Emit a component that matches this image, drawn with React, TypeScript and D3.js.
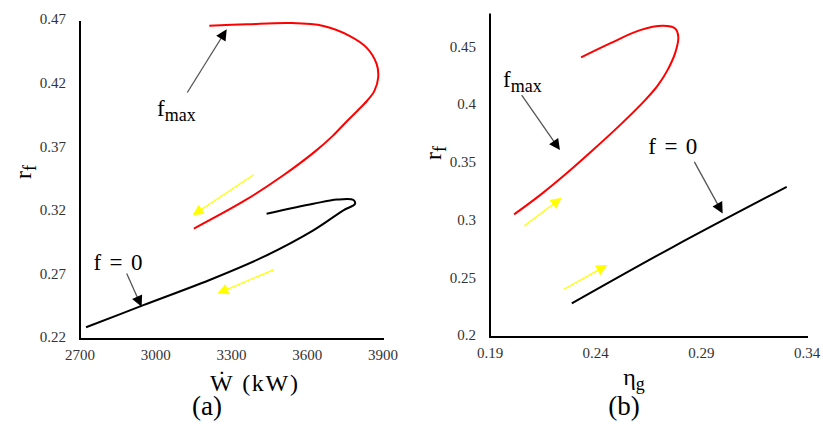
import React from "react";
import * as d3 from "d3";

// ---------- Panel (a): r_f vs W (kW) ----------
const aRedW = [3212, 3360, 3532, 3664, 3769, 3835, 3875, 3881, 3866, 3837, 3799, 3759, 3702, 3635, 3504, 3353, 3151];
const aRedR = [0.4663, 0.4674, 0.4684, 0.4661, 0.4582, 0.4491, 0.4361, 0.4256, 0.4151, 0.4073, 0.3995, 0.3916, 0.3799, 0.3681, 0.3485, 0.3289, 0.3068];
const aBlackW = [2724, 2951, 3228, 3426, 3624, 3743, 3789, 3783, 3718, 3624, 3439];
const aBlackR = [0.2292, 0.2466, 0.2676, 0.2845, 0.3054, 0.3211, 0.3262, 0.3293, 0.3296, 0.3263, 0.3185];
const aXTicks = [2700, 3000, 3300, 3600, 3900];
const aYTicks = [0.22, 0.27, 0.32, 0.37, 0.42, 0.47];

// ---------- Panel (b): r_f vs eta_g ----------
const bRedE = [0.2331, 0.2468, 0.261, 0.272, 0.2776, 0.2791, 0.2776, 0.274, 0.2695, 0.2634, 0.2525, 0.2387, 0.2264, 0.2137, 0.2014];
const bRedR = [0.442, 0.4541, 0.4656, 0.4693, 0.467, 0.4598, 0.4457, 0.431, 0.418, 0.405, 0.3851, 0.3618, 0.3419, 0.3228, 0.3061];
const bBlackE = [0.2287, 0.2767, 0.3304];
const bBlackR = [0.2291, 0.2781, 0.33];
const bXTicks = [0.19, 0.24, 0.29, 0.34];
const bYTicks = [0.2, 0.25, 0.3, 0.35, 0.4, 0.45];

// annotations [x1, y1, x2, y2] in data units (tail -> tip)
const aFmaxArrow = [3125, 0.4138, 3281, 0.4635];
const aF0Arrow = [2885, 0.2715, 2944, 0.2453];
const aYellow1 = [3389, 0.3493, 3146, 0.3172];
const aYellow2 = [3468, 0.2746, 3244, 0.2558];
const aFmaxLabel = [3005, 0.3955];
const aF0Label = [2753, 0.2741];

const bFmaxArrow = [0.205, 0.4093, 0.2231, 0.3618];
const bF0Arrow = [0.2867, 0.3516, 0.3001, 0.307];
const bYellow1 = [0.2061, 0.296, 0.2239, 0.3205];
const bYellow2 = [0.225, 0.2413, 0.2455, 0.2623];
const bFmaxLabel = [0.1962, 0.4163];
const bF0Label = [0.2649, 0.3583];

const SERIF = "Liberation Serif, Times New Roman, serif";

type Sc = d3.ScaleLinear<number, number>;

function Arrow({ a, x, y, shaft, head, w, len, hw }: { a: number[]; x: Sc; y: Sc; shaft: string; head: string; w: number; len: number; hw: number }) {
  const x1 = x(a[0]), y1 = y(a[1]), x2 = x(a[2]), y2 = y(a[3]);
  const dx = x2 - x1, dy = y2 - y1;
  const L = Math.hypot(dx, dy);
  const ux = dx / L, uy = dy / L;
  const bx = x2 - ux * len, by = y2 - uy * len;
  const px = -uy, py = ux;
  const pts = `${x2},${y2} ${bx + px * hw},${by + py * hw} ${bx - px * hw},${by - py * hw}`;
  return (
    <g>
      <line x1={x1} y1={y1} x2={bx + ux} y2={by + uy} stroke={shaft} strokeWidth={w} />
      <polygon points={pts} fill={head} />
    </g>
  );
}

function Panel(props: {
  x: Sc; y: Sc; xTicks: number[]; yTicks: number[]; xFmt: (v: number) => string; yFmt: (v: number) => string;
  red: [number, number][]; black: [number, number][];
  fmaxArrow: number[]; f0Arrow: number[]; y1: number[]; y2: number[]; fmaxLabel: number[]; f0Label: number[];
}) {
  const { x, y } = props;
  const line = d3.line<[number, number]>().x(d => x(d[0])).y(d => y(d[1])).curve(d3.curveCatmullRom.alpha(0.5));
  const [x0, x1] = x.range();
  const [yb, yt] = y.range();
  return (
    <g>
      <path d={line(props.red) || ""} fill="none" stroke="#ff0000" strokeWidth={2} />
      <path d={line(props.black) || ""} fill="none" stroke="#000" strokeWidth={2} />
      <line x1={x0} y1={yt} x2={x0} y2={yb + 1} stroke="#000" strokeWidth={2} />
      <line x1={x0 - 1} y1={yb} x2={x1 + 1} y2={yb} stroke="#000" strokeWidth={2} />
      {props.yTicks.map(t => (
        <text key={"y" + t} x={x0 - 14} y={y(t)} textAnchor="end" dominantBaseline="middle" fontFamily={SERIF} fontSize={15} fill="#333">{props.yFmt(t)}</text>
      ))}
      {props.xTicks.map(t => (
        <text key={"x" + t} x={x(t)} y={yb + 21} textAnchor="middle" fontFamily={SERIF} fontSize={15} fill="#333">{props.xFmt(t)}</text>
      ))}
      <Arrow a={props.fmaxArrow} x={x} y={y} shaft="#555" head="#000" w={1.3} len={11} hw={5.5} />
      <Arrow a={props.f0Arrow} x={x} y={y} shaft="#555" head="#000" w={1.3} len={11} hw={5.5} />
      <Arrow a={props.y1} x={x} y={y} shaft="#ffff00" head="#ffff00" w={1.3} len={11} hw={5.5} />
      <Arrow a={props.y2} x={x} y={y} shaft="#ffff00" head="#ffff00" w={1.3} len={11} hw={5.5} />
      <text x={x(props.fmaxLabel[0])} y={y(props.fmaxLabel[1])} fontFamily={SERIF} fontSize={23} fill="#000">
        f<tspan fontSize={18} dy={5}>max</tspan>
      </text>
      <text x={x(props.f0Label[0])} y={y(props.f0Label[1])} fontFamily={SERIF} fontSize={23} fill="#000"
        textLength={49} lengthAdjust="spacing" style={{ whiteSpace: "pre" }}>
        {"f = 0"}
      </text>
    </g>
  );
}

export default function App() {
  const ax = d3.scaleLinear().domain([2700, 3900]).range([80, 383]);
  const ay = d3.scaleLinear().domain([0.22, 0.47]).range([339, 21]);
  const bx = d3.scaleLinear().domain([0.19, 0.34]).range([490, 807]);
  const by = d3.scaleLinear().domain([0.2, 0.48]).range([337, 13.5]);
  const aRed = aRedW.map((w, i) => [w, aRedR[i]] as [number, number]);
  const aBlack = aBlackW.map((w, i) => [w, aBlackR[i]] as [number, number]);
  const bRed = bRedE.map((e, i) => [e, bRedR[i]] as [number, number]);
  const bBlack = bBlackE.map((e, i) => [e, bBlackR[i]] as [number, number]);
  return (
    <svg width={823} height={424} style={{ position: "absolute", left: 0, top: 0, background: "#fff" }}>
      <rect width={823} height={424} fill="#fff" />
      <Panel x={ax} y={ay} xTicks={aXTicks} yTicks={aYTicks} xFmt={v => String(v)} yFmt={v => v.toFixed(2)}
        red={aRed} black={aBlack} fmaxArrow={aFmaxArrow} f0Arrow={aF0Arrow} y1={aYellow1} y2={aYellow2}
        fmaxLabel={aFmaxLabel} f0Label={aF0Label} />
      <Panel x={bx} y={by} xTicks={bXTicks} yTicks={bYTicks} xFmt={v => String(v)} yFmt={v => String(v)}
        red={bRed} black={bBlack} fmaxArrow={bFmaxArrow} f0Arrow={bF0Arrow} y1={bYellow1} y2={bYellow2}
        fmaxLabel={bFmaxLabel} f0Label={bF0Label} />
      {/* axis titles */}
      <text x={210} y={391} fontFamily={SERIF} fontSize={24} fill="#000" textLength={88} lengthAdjust="spacing"
        style={{ whiteSpace: "pre" }}>Ẇ (kW)</text>
      <text x={207} y={415} textAnchor="middle" fontFamily={SERIF} fontSize={27} fill="#000">(a)</text>
      <text x={634} y={385} textAnchor="middle" fontFamily={SERIF} fontSize={24} fill="#000">
        η<tspan fontSize={18} dy={5}>g</tspan>
      </text>
      <text x={624} y={415} textAnchor="middle" fontFamily={SERIF} fontSize={27} fill="#000">(b)</text>
      <text transform="translate(31,172) rotate(-90)" textAnchor="middle" fontFamily={SERIF} fontSize={24} fill="#000">
        r<tspan fontSize={18} dy={5}>f</tspan>
      </text>
      <text transform="translate(441,153) rotate(-90)" textAnchor="middle" fontFamily={SERIF} fontSize={24} fill="#000">
        r<tspan fontSize={18} dy={5}>f</tspan>
      </text>
    </svg>
  );
}
